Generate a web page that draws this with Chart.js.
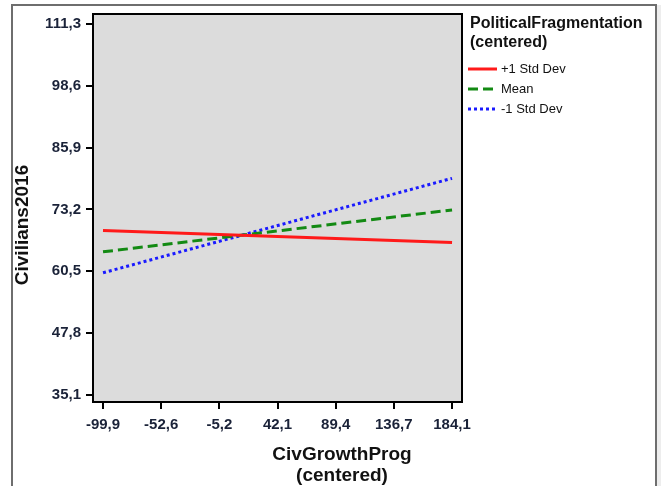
<!DOCTYPE html>
<html>
<head>
<meta charset="utf-8">
<script src="https://cdn.jsdelivr.net/npm/chart.js@4"></script>
<style>
  html, body { margin: 0; padding: 0; background: #fff; }
  #wrap { position: relative; width: 663px; height: 486px; }
</style>
</head>
<body>
<div id="wrap"><canvas id="chart" width="663" height="486"></canvas></div>
<script>
// --- data ---
const xValues = [-99.9, 184.1];
const plusOneSd = [68.9, 66.4];
const meanLine = [64.5, 73.1];
const minusOneSd = [60.2, 79.6];
const xTicks = [-99.9, -52.6, -5.2, 42.1, 89.4, 136.7, 184.1];
const yTicks = [35.1, 47.8, 60.5, 73.2, 85.9, 98.6, 111.3];
const seriesNames = ["+1 Std Dev", "Mean", "-1 Std Dev"];
const seriesColors = ["#ff1a1a", "#138a13", "#1a1aff"];
const seriesDash = [[], [10, 5], [3, 3]];

const FONT = "'Liberation Sans', Arial, sans-serif";
const TICK_COLOR = "#1a2238";

const fmt = v => Number(v).toFixed(1).replace(".", ",");
const toPoints = ys => xValues.map((x, i) => ({ x: x, y: ys[i] }));

// gray plot box, outer frame, titles and legend
const framePlugin = {
    id: "frame",
    beforeDraw(chart) {
        const ctx = chart.ctx;
        const a = chart.chartArea;
        ctx.save();
        ctx.fillStyle = "#fff";
        ctx.fillRect(0, 0, chart.width, chart.height);
        ctx.fillStyle = "#ededed";
        ctx.fillRect(657, 5, 4, chart.height);
        ctx.strokeStyle = "#6e6e6e";
        ctx.lineWidth = 2;
        ctx.beginPath();
        ctx.moveTo(12, chart.height);
        ctx.lineTo(12, 5);
        ctx.lineTo(656, 5);
        ctx.lineTo(656, chart.height);
        ctx.stroke();
        ctx.fillStyle = "#dcdcdc";
        ctx.fillRect(a.left, a.top, a.right - a.left, a.bottom - a.top);
        ctx.restore();
    },
    afterDraw(chart) {
        const ctx = chart.ctx;
        const a = chart.chartArea;
        ctx.save();
        ctx.strokeStyle = "#000";
        ctx.lineWidth = 2;
        ctx.strokeRect(a.left, a.top, a.right - a.left, a.bottom - a.top);

        // axis titles
        ctx.fillStyle = "#111";
        ctx.font = "bold 19px " + FONT;
        ctx.textAlign = "center";
        ctx.textBaseline = "middle";
        ctx.fillText("CivGrowthProg", 342, 455);
        ctx.fillText("(centered)", 342, 476);
        ctx.save();
        ctx.translate(28, 225);
        ctx.rotate(-Math.PI / 2);
        ctx.textBaseline = "alphabetic";
        ctx.fillText("Civilians2016", 0, 0);
        ctx.restore();

        // legend
        ctx.textAlign = "left";
        ctx.font = "bold 16px " + FONT;
        ctx.fillText("PoliticalFragmentation", 470, 24);
        ctx.fillText("(centered)", 470, 43);
        ctx.font = "13px " + FONT;
        seriesNames.forEach((name, i) => {
            const y = 69 + i * 20;
            ctx.strokeStyle = seriesColors[i];
            ctx.lineWidth = 3;
            ctx.setLineDash(seriesDash[i]);
            ctx.beginPath();
            ctx.moveTo(468, y);
            ctx.lineTo(497, y);
            ctx.stroke();
            ctx.setLineDash([]);
            ctx.fillStyle = "#111";
            ctx.fillText(name, 501, y);
        });
        ctx.restore();
    }
};

const datasets = [plusOneSd, meanLine, minusOneSd].map((ys, i) => ({
    label: seriesNames[i],
    data: toPoints(ys),
    borderColor: seriesColors[i],
    borderWidth: 3,
    borderDash: seriesDash[i],
    borderCapStyle: "butt",
    pointRadius: 0,
    tension: 0,
    fill: false
}));

const tickFont = { family: FONT, size: 15, weight: "bold" };

new Chart(document.getElementById("chart").getContext("2d"), {
    type: "line",
    data: { datasets: datasets },
    options: {
        responsive: false,
        animation: false,
        devicePixelRatio: 1,
        layout: { padding: { left: 0, right: 201, top: 14, bottom: 0 } },
        plugins: {
            legend: { display: false },
            tooltip: { enabled: false }
        },
        scales: {
            x: {
                type: "linear",
                min: -108.05,
                max: 192.2,
                afterBuildTicks: s => { s.ticks = xTicks.map(v => ({ value: v })); },
                afterFit: s => { s.height = 84; },
                ticks: {
                    callback: v => fmt(v),
                    font: tickFont,
                    color: TICK_COLOR,
                    padding: 7,
                    maxRotation: 0,
                    autoSkip: false
                },
                grid: { drawOnChartArea: false, drawTicks: true, tickLength: 7, color: "#000", lineWidth: 2 },
                border: { display: true, color: "#000", width: 2 }
            },
            y: {
                type: "linear",
                min: 33.66,
                max: 113.35,
                afterBuildTicks: s => { s.ticks = yTicks.map(v => ({ value: v })); },
                afterFit: s => { s.width = 93; },
                ticks: {
                    callback: v => fmt(v),
                    font: tickFont,
                    color: TICK_COLOR,
                    padding: 5,
                    autoSkip: false
                },
                grid: { drawOnChartArea: false, drawTicks: true, tickLength: 7, color: "#000", lineWidth: 2 },
                border: { display: true, color: "#000", width: 2 }
            }
        }
    },
    plugins: [framePlugin]
});
</script>
</body>
</html>
